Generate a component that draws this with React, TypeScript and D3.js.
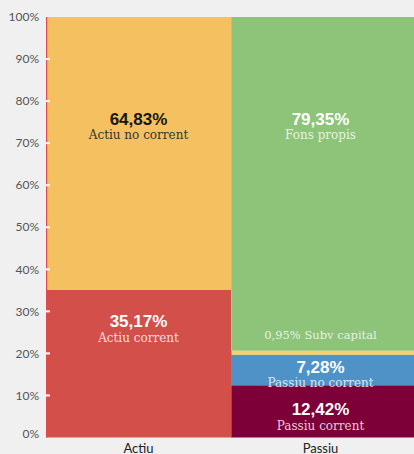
import React from "react";
import * as d3 from "d3";

const categories = ["Actiu", "Passiu"];
const segNames = [
  ["Actiu corrent", "Actiu no corrent"],
  ["Passiu corrent", "Passiu no corrent", "Subv capital", "Fons propis"],
];
const segValues = [
  [35.17, 64.83],
  [12.42, 7.28, 0.95, 79.35],
];
const segColors = [
  ["#d3504a", "#f5c160"],
  ["#7d0038", "#4f92c8", "#f6d06a", "#8dc47a"],
];
// label anchor (in % units) for value text
const labelAt = [
  [27.6, 75.7],
  [6.7, 16.7, 24.5, 75.7],
];
const yTicks = [0, 10, 20, 30, 40, 50, 60, 70, 80, 90, 100];

const W = 414;
const H = 454;
const left = 46;
const right = 416;
const top = 17;
const bottom = 437.5;

export default function App() {
  const x = d3.scaleBand<string>().domain(categories).range([left, right]).padding(0);
  const y = d3.scaleLinear().domain([0, 100]).range([bottom, top]);
  const fmt = (v: number) => v.toFixed(2).replace(".", ",") + "%";
  const passiuLow = segValues[1][0] + segValues[1][1] + segValues[1][2];

  return (
    <svg width={W} height={H} style={{ position: "absolute", left: 0, top: 0, background: "#f0f0f0" }}>
      <rect x={0} y={0} width={W} height={H} fill="#f0f0f0" />
      {categories.map((c, ci) => {
        let acc = 0;
        return (
          <g key={c}>
            {segValues[ci].map((v, si) => {
              const y0 = acc;
              acc += v;
              return (
                <rect
                  key={si}
                  x={x(c)!}
                  width={x.bandwidth()}
                  y={y(acc)}
                  height={y(y0) - y(acc)}
                  fill={segColors[ci][si]}
                />
              );
            })}
          </g>
        );
      })}
      {/* thin edge lines */}
      <rect x={left} y={top} width={1.2} height={bottom - top} fill="#e04a50" />
      <rect x={x("Passiu")!} y={y(passiuLow)} width={1} height={y(0) - y(passiuLow)} fill="#e0605a" opacity={0.6} />
      <rect x={x("Passiu")!} y={top} width={1} height={y(passiuLow) - top} fill="#f2b860" opacity={0.7} />
      {/* y ticks */}
      {yTicks.map((t) => (
        <g key={t}>
          {t > 0 && t < 100 && <rect x={left} y={y(t) - 1} width={4} height={2} fill="#ffffff" />}
          <text
            x={39}
            y={t === 0 ? y(t) - 4 : y(t)}
            dy="0.35em"
            textAnchor="end"
            fontFamily="Lato, 'Noto Sans', sans-serif"
            fontSize={12}
            fill="#555"
          >
            {t}%
          </text>
        </g>
      ))}
      {/* x labels */}
      {categories.map((c) => (
        <text
          key={c}
          x={x(c)! + x.bandwidth() / 2 - (c === "Passiu" ? 3 : 0)}
          y={453}
          textAnchor="middle"
          fontFamily="Lato, 'Noto Sans', sans-serif"
          fontSize={13}
          fill="#222"
        >
          {c}
        </text>
      ))}
      {/* segment labels */}
      {categories.map((c, ci) =>
        segValues[ci].map((v, si) => {
          const cx = x(c)! + x.bandwidth() / 2 - (ci === 1 ? 3 : 0);
          const cy = y(labelAt[ci][si]);
          const dark = ci === 0 && si === 1;
          const name = segNames[ci][si];
          if (name === "Subv capital") {
            return (
              <text
                key={si + c}
                x={cx}
                y={cy}
                dy="0.35em"
                textAnchor="middle"
                fontFamily="'DejaVu Serif', serif"
                fontSize={11.5}
                fill="#ffffff"
                fillOpacity={0.8}
              >
                {fmt(v) + " " + name}
              </text>
            );
          }
          return (
            <g key={si + c}>
              <text
                x={cx}
                y={cy}
                dy="0.35em"
                textAnchor="middle"
                fontFamily="'Liberation Sans', Arial, sans-serif"
                fontWeight="bold"
                fontSize={17}
                fill={dark ? "#151515" : "#ffffff"}
              >
                {fmt(v)}
              </text>
              <text
                x={cx}
                y={cy + 16}
                dy="0.35em"
                textAnchor="middle"
                fontFamily="'DejaVu Serif', serif"
                fontSize={12}
                fill={dark ? "#333" : "#ffffff"}
                fillOpacity={dark ? 1 : 0.8}
              >
                {name}
              </text>
            </g>
          );
        })
      )}
    </svg>
  );
}
